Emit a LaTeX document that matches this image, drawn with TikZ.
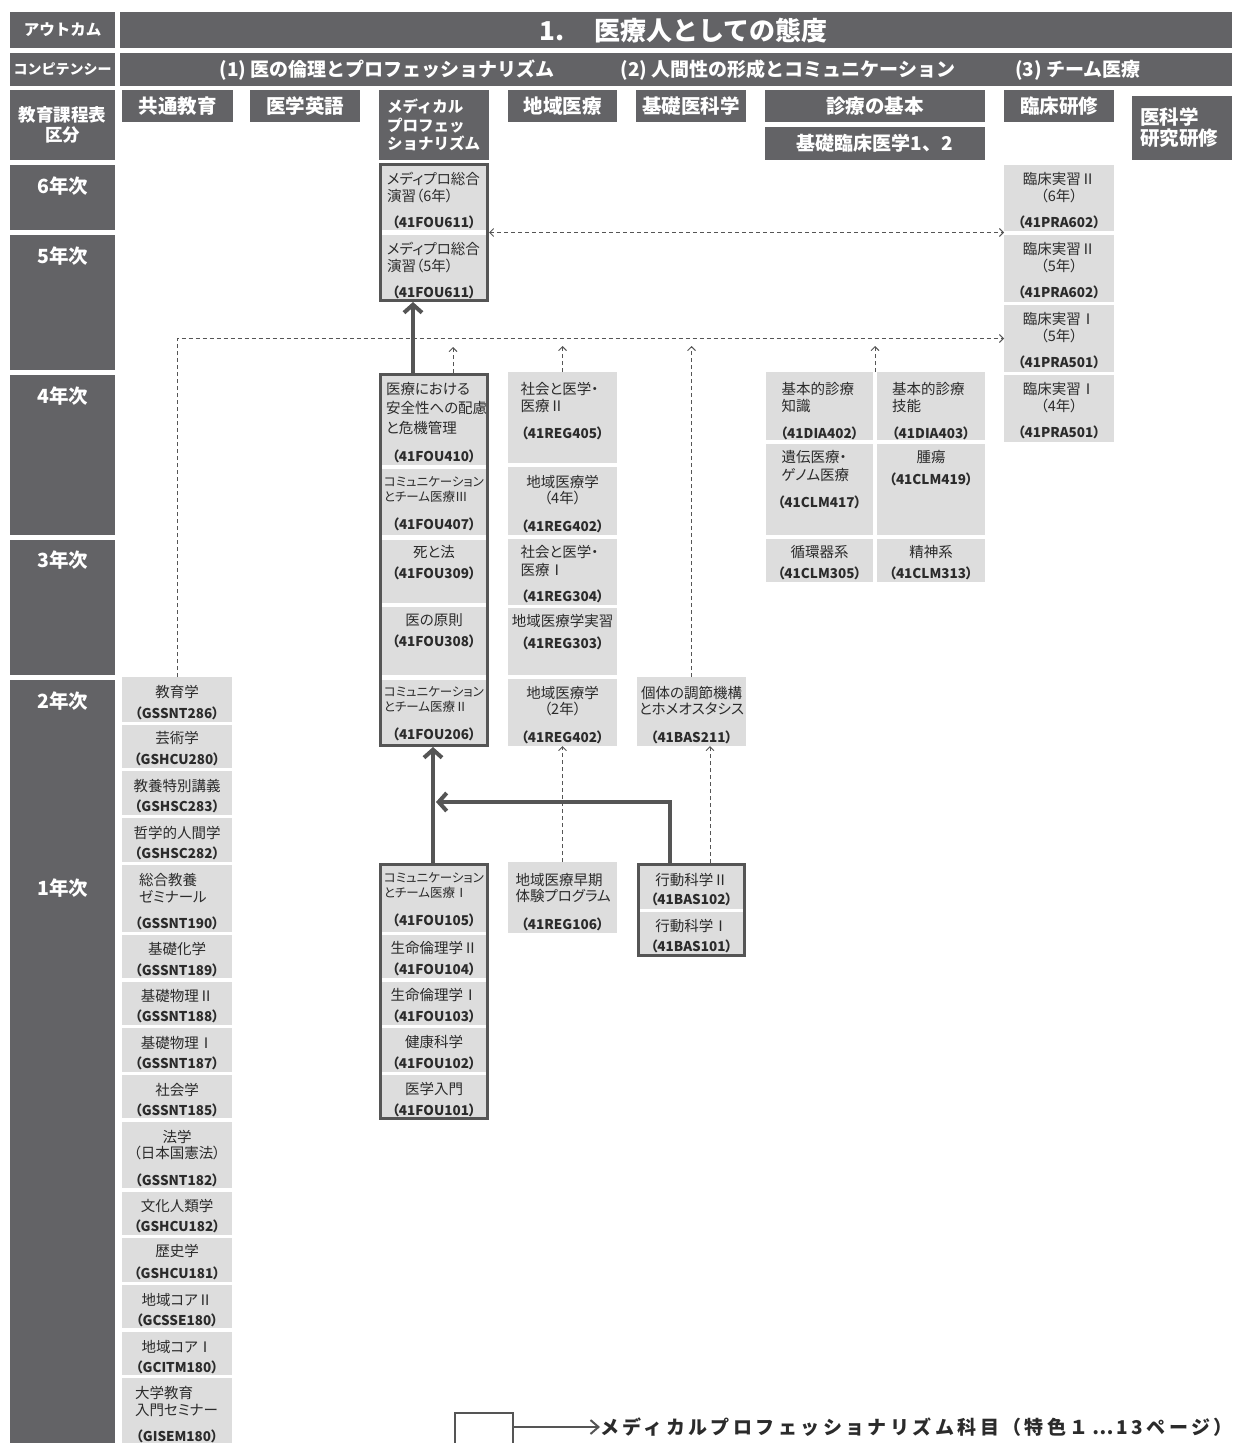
\documentclass[tikz,border=0pt]{standalone}
\usepackage{fontspec}
\setmainfont{Noto Sans CJK JP}
\newfontfamily\pf{Noto Sans CJK JP}[RawFeature=+palt]
\newfontfamily\npf{Noto Sans CJK JP}
\usetikzlibrary{arrows.meta,fit}
\definecolor{hdr}{HTML}{636366}
\definecolor{crs}{HTML}{DDDDDD}
\definecolor{bord}{HTML}{555555}
\definecolor{ctxt}{HTML}{2B2B2B}
\newcommand\cf{\pf\fontsize{14.5}{17}\selectfont}
\newcommand\cd[1]{{\bfseries\fontsize{13.5}{17}\selectfont （#1）}}
\newcommand\sm[1]{{\fontsize{12.5}{15}\selectfont #1}}
\newcommand\RN[1]{{\npf #1}}
\newcommand\Lb[2]{\makebox[#1pt][l]{#2}}
\newcommand\cb[7]{\node[course] (#1) at ({(#2+#4)/2},{(#3+#5)/2}) {\parbox[c][\dimexpr#5pt-#3pt\relax][t]{\dimexpr#4pt-#2pt\relax}{\centering\vspace*{#6pt}#7\par}};}
\newcommand\hb[6]{\node[hdrbox, minimum width={#4-#2}, minimum height={#5-#3}] (#1) at ({(#2+#4)/2},{(#3+#5)/2}) {#6};}
\newcommand\hf{\fontsize{19.5}{22}\selectfont}
\tikzset{
  course/.style={fill=crs, inner sep=0pt, outer sep=0pt, text=ctxt, font=\cf},
  hdrbox/.style={fill=hdr, inner sep=0pt, outer sep=0pt, text=white, font=\bfseries, align=center},
  hdrtxt/.style={text=white, font=\bfseries\fontsize{19}{22}\selectfont, inner sep=0pt},
  yeartxt/.style={text=white, font=\bfseries\fontsize{19.5}{22}\selectfont, inner sep=0pt},
  grp/.style={draw=bord, line width=3pt, inner sep=0.5pt},
  thickarr/.style={draw=bord, line width=4pt, -{Straight Barb[length=8pt,width=18pt]}},
  dsh/.style={draw=bord, line width=0.9pt, dash pattern=on 4pt off 3pt},
  tip/.style={-{Straight Barb[length=4pt,width=8pt]}},
}
\begin{document}
\begin{tikzpicture}[x=1pt,y=-1pt]
\useasboundingbox (0,0) rectangle (1234,1443);
% ---------- header rows ----------
\hb{lo}{10}{12}{115}{48}{\fontsize{15.5}{17}\selectfont アウトカム}
\hb{ho}{120}{12}{1232}{48}{}
\node[hdrtxt, font=\bfseries\fontsize{26}{30}\selectfont] (ttl) at (683.5,31) {1.\hspace{30pt}医療人としての態度};
\hb{lc}{10}{53}{115}{86}{\fontsize{14}{16}\selectfont コンピテンシー}
\hb{hc}{120}{53}{1232}{86}{}
\node[hdrtxt] (cp1) at (387,70) {(1) 医の倫理とプロフェッショナリズム};
\node[hdrtxt] (cp2) at (788,70) {(2) 人間性の形成とコミュニケーション};
\node[hdrtxt] (cp3) at (1078,70) {(3) チーム医療};
\hb{lk}{10}{90}{115}{160}{\parbox{100pt}{\centering\fontsize{17.5}{19.5}\selectfont 教育課程表\\区分}}
\hb{h1}{122}{90}{233}{122}{\hf 共通教育}
\hb{h2}{250}{90}{360}{122}{\hf 医学英語}
\hb{h3}{379}{90}{489}{160}{\parbox{94pt}{\raggedright\fontsize{15.5}{18.5}\selectfont メディカル\\プロフェッ\\ショナリズム}}
\hb{h4}{508}{90}{617}{122}{\hf 地域医療}
\hb{h5}{636}{90}{746}{122}{\hf 基礎医科学}
\hb{h6}{765}{90}{985}{122}{\hf 診療の基本}
\hb{h7}{765}{127}{985}{160}{\fontsize{19}{22}\selectfont 基礎臨床医学1、2}
\hb{h8}{1004}{90}{1114}{122}{\hf 臨床研修}
\hb{h9}{1132}{96}{1232}{160}{\parbox{84pt}{\raggedright\fontsize{19.5}{21}\selectfont 医科学\\研究研修}}
% ---------- years ----------
\hb{y6}{10}{165}{115}{230}{}
\hb{y5}{10}{235}{115}{370}{}
\hb{y4}{10}{375}{115}{535}{}
\hb{y3}{10}{540}{115}{675}{}
\hb{y12}{10}{680}{115}{1443}{}
\node[yeartxt] (t6) at (63,186) {6年次};
\node[yeartxt] (t5) at (63,256) {5年次};
\node[yeartxt] (t4) at (63,396) {4年次};
\node[yeartxt] (t3) at (63,560) {3年次};
\node[yeartxt] (t2) at (63,701) {2年次};
\node[yeartxt] (t1) at (63,888) {1年次};
% ---------- 共通教育 ----------
\cb{kg}{122}{677}{232}{722}{8}{教育学\\[4pt]\cd{GSSNT286}}
\cb{gj}{122}{725}{232}{768}{6}{芸術学\\[4pt]\cd{GSHCU280}}
\cb{ky}{122}{771}{232}{815}{8}{教養特別講義\\[3pt]\cd{GSHSC283}}
\cb{tt}{122}{818}{232}{862}{8}{哲学的人間学\\[3pt]\cd{GSHSC282}}
\cb{sg}{122}{865}{232}{932}{8}{\Lb{76}{総合教養}\\\Lb{76}{ゼミナール}\\[9pt]\cd{GSSNT190}}
\cb{kk}{122}{935}{232}{978}{7}{基礎化学\\[4pt]\cd{GSSNT189}}
\cb{bt2}{122}{982}{232}{1025}{7}{基礎物理\RN{Ⅱ}\\[3pt]\cd{GSSNT188}}
\cb{bt1}{122}{1028}{232}{1072}{8}{基礎物理\RN{Ⅰ}\\[3pt]\cd{GSSNT187}}
\cb{sk}{122}{1075}{232}{1118}{8}{社会学\\[3pt]\cd{GSSNT185}}
\cb{hg}{122}{1122}{232}{1188}{8}{法学\\[-1pt]（日本国憲法）\\[10pt]\cd{GSSNT182}}
\cb{bj}{122}{1192}{232}{1235}{7}{文化人類学\\[3pt]\cd{GSHCU182}}
\cb{rs}{122}{1238}{232}{1282}{6}{歴史学\\[5pt]\cd{GSHCU181}}
\cb{ck2}{122}{1285}{232}{1328}{8}{地域コア\RN{Ⅱ}\\[3pt]\cd{GCSSE180}}
\cb{ck1}{122}{1332}{232}{1375}{8}{地域コア\RN{Ⅰ}\\[3pt]\cd{GCITM180}}
\cb{dg}{122}{1378}{232}{1443}{8}{\Lb{84}{大学教育}\\\Lb{84}{入門セミナー}\\[9pt]\cd{GISEM180}}
% ---------- メディカルプロフェッショナリズム ----------
\cb{mp6}{381}{165}{487}{230}{7}{\Lb{94}{メディプロ総合}\\\Lb{94}{演習（6年）}\\[9pt]\cd{41FOU611}}
\cb{mp5}{381}{235}{487}{300}{7}{\Lb{94}{メディプロ総合}\\\Lb{94}{演習（5年）}\\[9pt]\cd{41FOU611}}
\node[grp, fit=(mp6)(mp5)] (gA) {};
\cb{sf}{381}{375}{487}{465}{7}{\Lb{96}{医療における}\\[2.5pt]\Lb{96}{安全性への配慮}\\[3pt]\Lb{96}{と危機管理}\\[11pt]\cd{41FOU410}}
\cb{cm3}{381}{469}{487}{535}{8}{\sm{\Lb{100}{コミュニケーション}}\\[-2pt]\sm{\Lb{100}{とチーム医療\RN{Ⅲ}}}\\[11pt]\cd{41FOU407}}
\cb{sh}{381}{540}{487}{603}{5}{死と法\\[4pt]\cd{41FOU309}}
\cb{gn}{381}{607}{487}{675}{7}{医の原則\\[4pt]\cd{41FOU308}}
\cb{cm2}{381}{680}{487}{745}{7}{\sm{\Lb{100}{コミュニケーション}}\\[-2pt]\sm{\Lb{100}{とチーム医療\RN{Ⅱ}}}\\[11pt]\cd{41FOU206}}
\node[grp, fit=(sf)(cm2)] (gB) {};
\cb{cm1}{381}{865}{487}{932}{8}{\sm{\Lb{100}{コミュニケーション}}\\[-2pt]\sm{\Lb{100}{とチーム医療\RN{Ⅰ}}}\\[11pt]\cd{41FOU105}}
\cb{sr2}{381}{935}{487}{978}{6}{生命倫理学\RN{Ⅱ}\\[4pt]\cd{41FOU104}}
\cb{sr1}{381}{982}{487}{1025}{6}{生命倫理学\RN{Ⅰ}\\[4pt]\cd{41FOU103}}
\cb{kks}{381}{1028}{487}{1072}{7}{健康科学\\[4pt]\cd{41FOU102}}
\cb{ig}{381}{1075}{487}{1118}{7}{医学入門\\[4pt]\cd{41FOU101}}
\node[grp, fit=(cm1)(ig)] (gC) {};
% ---------- 地域医療 ----------
\cb{r405}{508}{372}{617}{463}{10}{\Lb{84}{社会と医学・}\\\Lb{84}{医療\RN{Ⅱ}}\\[10pt]\cd{41REG405}}
\cb{r402a}{508}{467}{617}{535}{8}{地域医療学\\[-1pt]（4年）\\[11pt]\cd{41REG402}}
\cb{r304}{508}{539}{617}{605}{6}{\Lb{84}{社会と医学・}\\[1pt]\Lb{84}{医療\RN{Ⅰ}}\\[9pt]\cd{41REG304}}
\cb{r303}{508}{608}{617}{675}{6}{地域医療学実習\\[5pt]\cd{41REG303}}
\cb{r402b}{508}{679}{617}{746}{7}{地域医療学\\[-1pt]（2年）\\[11pt]\cd{41REG402}}
\cb{r106}{508}{862}{617}{933}{11}{\Lb{94}{地域医療早期}\\[-1pt]\Lb{94}{体験プログラム}\\[11pt]\cd{41REG106}}
% ---------- 基礎医科学 ----------
\cb{b211}{637}{677}{746}{746}{9}{個体の調節機構\\[-1pt]とホメオスタシス\\[11pt]\cd{41BAS211}}
\cb{b102}{639}{865}{744}{909}{8}{行動科学\RN{Ⅱ}\\[2pt]\cd{41BAS102}}
\cb{b101}{639}{912}{744}{955}{7}{行動科学\RN{Ⅰ}\\[3pt]\cd{41BAS101}}
\node[grp, fit=(b102)(b101)] (gS) {};
% ---------- 診療の基本 ----------
\cb{d402}{766}{372}{873}{440}{10}{\Lb{76}{基本的診療}\\\Lb{76}{知識}\\[10pt]\cd{41DIA402}}
\cb{d403}{877}{372}{985}{440}{10}{\Lb{78}{基本的診療}\\\Lb{78}{技能}\\[10pt]\cd{41DIA403}}
\cb{c417}{766}{444}{873}{535}{6}{\Lb{76}{遺伝医療・}\\[1pt]\Lb{76}{ゲノム医療}\\[10pt]\cd{41CLM417}}
\cb{c419}{877}{444}{985}{535}{6}{腫瘍\\[5pt]\cd{41CLM419}}
\cb{c305}{766}{539}{873}{582}{6}{循環器系\\[4pt]\cd{41CLM305}}
\cb{c313}{877}{539}{985}{582}{6}{精神系\\[4pt]\cd{41CLM313}}
% ---------- 臨床研修 ----------
\cb{p6}{1004}{165}{1114}{231}{7}{臨床実習\RN{Ⅱ}\\（6年）\\[9pt]\cd{41PRA602}}
\cb{p5b}{1004}{235}{1114}{302}{7}{臨床実習\RN{Ⅱ}\\（5年）\\[9pt]\cd{41PRA602}}
\cb{p5a}{1004}{305}{1114}{372}{7}{臨床実習\RN{Ⅰ}\\（5年）\\[9pt]\cd{41PRA501}}
\cb{p4}{1004}{375}{1114}{442}{7}{臨床実習\RN{Ⅰ}\\（4年）\\[9pt]\cd{41PRA501}}
% ---------- connectors ----------
\draw[dsh, {Straight Barb[length=4pt,width=8pt]}-{Straight Barb[length=4pt,width=8pt]}] (gA.east) -- (gA.east -| p6.west);
\draw[dsh, tip] (kg.north) |- (p5a.west);
\draw[dsh, tip] ([xshift=74pt]gB.north west) -- ++(0,-26);
\draw[dsh, tip] (r405.north) -- ++(0,-26);
\draw[dsh, tip] (b211.north) -- ++(0,-331);
\draw[dsh, tip] ([xshift=2pt]d402.north east) -- ++(0,-26);
\draw[dsh, tip] (r106.north) -- (r402b.south);
\draw[dsh, tip] ([xshift=73pt]gS.north west) -- ([xshift=73pt]b211.south west);
\draw[thickarr] ([xshift=34pt]gB.north west) -- ([xshift=34pt]gA.south west);
\draw[thickarr] ([xshift=54pt]gC.north west) -- ([xshift=54pt]gB.south west);
\coordinate (jn) at (436,802);
\draw[thickarr] ([xshift=33pt]gS.north west) |- (jn);
% ---------- legend ----------
\draw[draw=bord, line width=2.5pt] (455,1445) |- (513,1413) -- (513,1445);
\coordinate (lga) at (513,1427);
\node[anchor=west, inner sep=0pt, text=ctxt, font=\bfseries\fontsize{19}{21}\selectfont\addfontfeatures{LetterSpace=18}] (lgt) at (600,1427) {メディカルプロフェッショナリズム科目（特色１…13ページ）};
\draw[draw=bord, line width=2pt, -{Straight Barb[length=8pt,width=14pt]}] (lga) -- (lgt.west);
\end{tikzpicture}
\end{document}
